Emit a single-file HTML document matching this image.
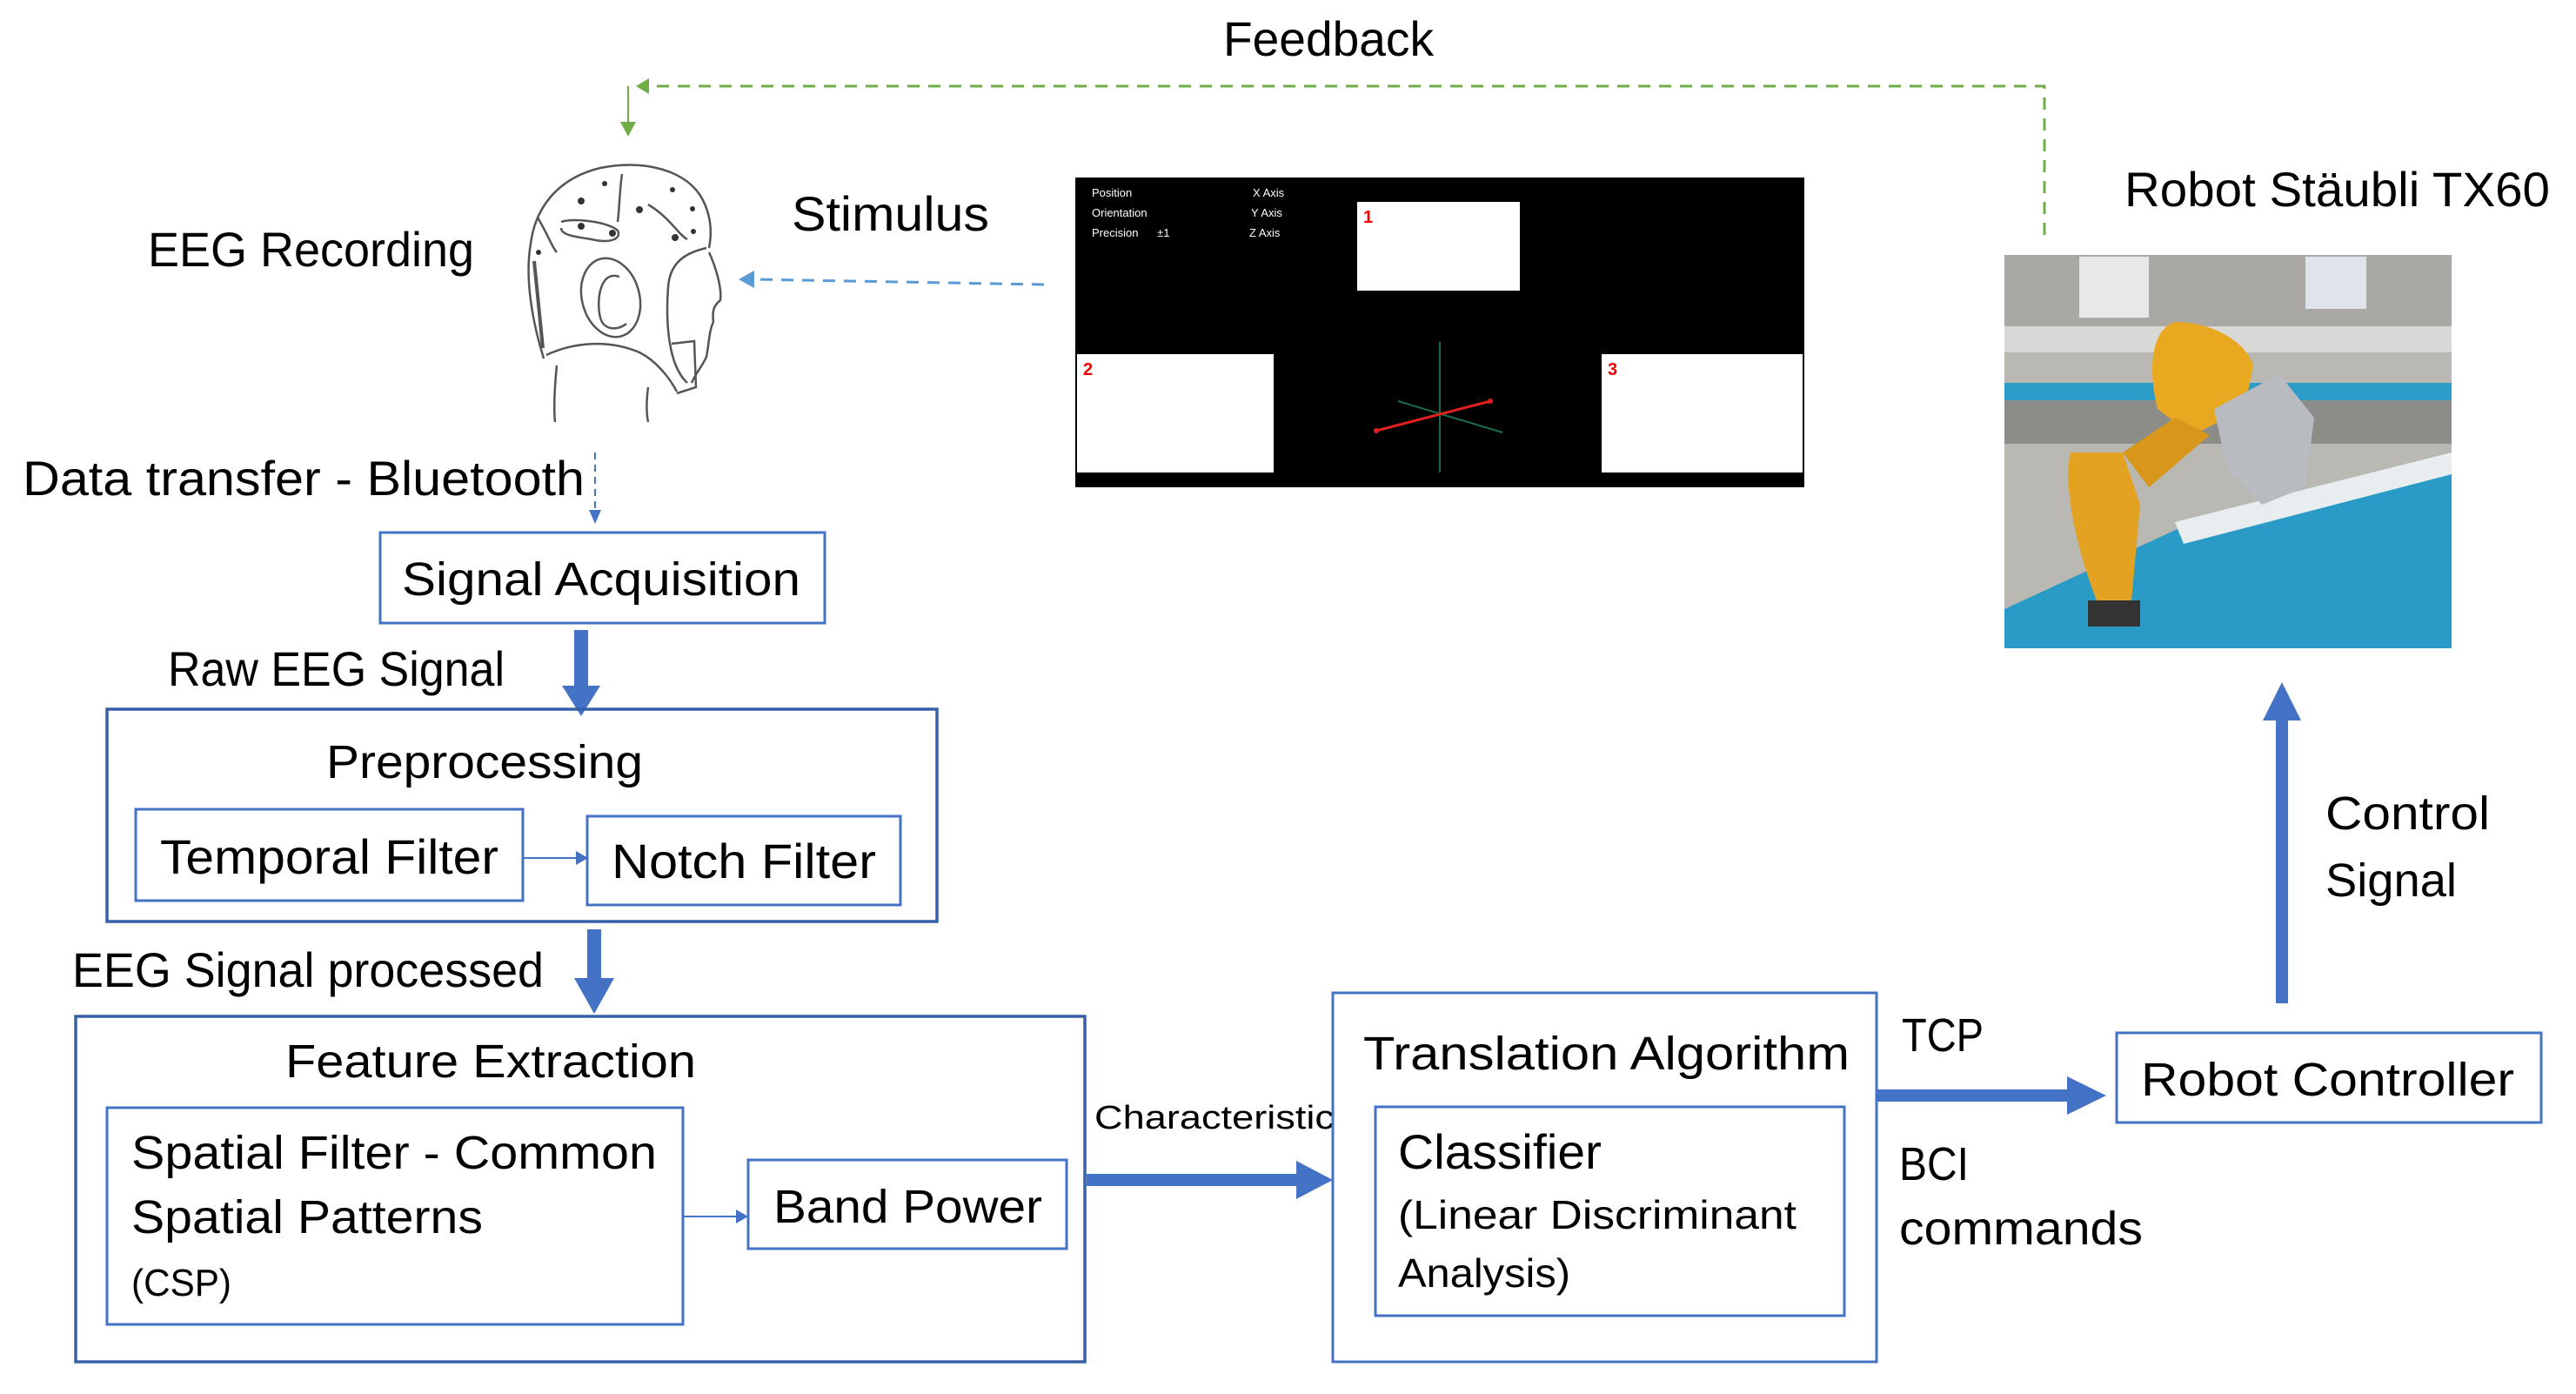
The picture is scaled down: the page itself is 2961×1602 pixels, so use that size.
<!DOCTYPE html>
<html><head><meta charset="utf-8"><style>
html,body{margin:0;padding:0;background:#fff;}
svg{display:block;}
text{font-family:"Liberation Sans",sans-serif;fill:#000;}
</style></head><body>
<svg width="2961" height="1602" viewBox="0 0 2961 1602" xmlns="http://www.w3.org/2000/svg">
<defs>
<marker id="ta" markerWidth="10" markerHeight="10" refX="9" refY="5" orient="auto" markerUnits="userSpaceOnUse"><path d="M0,0 L10,5 L0,10 z" fill="#4472c4"/></marker>
</defs>

<!-- Feedback -->
<text x="1406" y="64" font-size="56" textLength="242" lengthAdjust="spacingAndGlyphs">Feedback</text>
<path d="M2350,270 L2350,99 L740,99" fill="none" stroke="#70ad47" stroke-width="3" stroke-dasharray="14,10"/>
<path d="M731,99 L746,90 L746,108 z" fill="#70ad47"/>
<line x1="722" y1="99" x2="722" y2="142" stroke="#70ad47" stroke-width="2"/>
<path d="M722,157 L713,140 L731,140 z" fill="#70ad47"/>

<!-- Head -->
<g fill="none" stroke="#555" stroke-width="2.5">
<path d="M625,412 C612,370 603,320 610,280 C615,240 640,205 690,193 C740,183 790,195 808,230 C818,250 818,270 815,285"/>
<path d="M815,290 C822,305 830,330 828,345 C822,350 818,355 820,370 C815,380 815,395 812,410 C808,420 800,428 795,440"/>
<path d="M628,408 C660,393 700,390 735,405 C755,415 770,435 778,450"/>
<path d="M812,285 C790,290 770,300 768,330 C765,370 768,420 790,440"/>
<path d="M772,395 L798,392 L800,445 L778,452"/>
<ellipse cx="702" cy="342" rx="33" ry="46" transform="rotate(-15 702 342)"/>
<path d="M712,318 C690,310 685,345 690,365 C694,380 710,380 720,372"/>
<path d="M640,420 C638,440 636,465 638,485"/>
<path d="M745,445 C743,460 743,475 745,485"/>
<path d="M614,300 L624,400" stroke-width="4"/>
<path d="M715,200 C712,220 712,240 710,255"/>
<path d="M618,250 C630,270 635,285 640,290"/>
<path d="M745,235 C770,250 780,270 790,275"/>
<path d="M645,255 C660,250 700,255 710,265 C715,275 700,280 680,275 C660,272 645,270 645,262"/>
</g>
<g fill="#333">
<circle cx="668" cy="260" r="4"/><circle cx="704" cy="268" r="4"/><circle cx="735" cy="241" r="4"/><circle cx="776" cy="273" r="4"/><circle cx="668" cy="231" r="4"/><circle cx="619" cy="290" r="3"/><circle cx="797" cy="266" r="3"/><circle cx="796" cy="240" r="3"/><circle cx="695" cy="211" r="3"/><circle cx="773" cy="218" r="3"/>
</g>

<text x="170" y="306" font-size="56" textLength="375" lengthAdjust="spacingAndGlyphs">EEG Recording</text>
<text x="910" y="265" font-size="56" textLength="227" lengthAdjust="spacingAndGlyphs">Stimulus</text>
<line x1="1200" y1="327" x2="866" y2="321" stroke="#5b9bd5" stroke-width="3" stroke-dasharray="14,10"/>
<path d="M849,321 L867,311 L867,331 z" fill="#5b9bd5"/>

<!-- Stimulus screen -->
<rect x="1236" y="204" width="838" height="356" fill="#000"/>
<g font-size="13" style="fill:#fff">
<text x="1255" y="226" style="fill:#fff">Position</text>
<text x="1255" y="249" style="fill:#fff">Orientation</text>
<text x="1255" y="272" style="fill:#fff">Precision&#160;&#160;&#160;&#160;&#160;&#160;±1</text>
<text x="1440" y="226" style="fill:#fff">X Axis</text>
<text x="1438" y="249" style="fill:#fff">Y Axis</text>
<text x="1436" y="272" style="fill:#fff">Z Axis</text>
</g>
<rect x="1560" y="232" width="187" height="102" fill="#fff"/>
<rect x="1238" y="407" width="226" height="136" fill="#fff"/>
<rect x="1841" y="407" width="231" height="136" fill="#fff"/>
<text x="1567" y="256" font-size="20" font-weight="bold" style="fill:#e00">1</text>
<text x="1245" y="431" font-size="20" font-weight="bold" style="fill:#e00">2</text>
<text x="1848" y="431" font-size="20" font-weight="bold" style="fill:#e00">3</text>
<line x1="1655" y1="393" x2="1655" y2="543" stroke="#1a6b4a" stroke-width="2"/>
<line x1="1607" y1="461" x2="1727" y2="497" stroke="#1a6b4a" stroke-width="2"/>
<line x1="1582" y1="495" x2="1713" y2="461" stroke="#e0201e" stroke-width="3"/>
<circle cx="1582" cy="495" r="3" fill="#e02020"/><circle cx="1713" cy="461" r="3" fill="#e02020"/>

<!-- Robot -->
<text x="2442" y="237" font-size="56" textLength="489" lengthAdjust="spacingAndGlyphs">Robot Stäubli TX60</text>
<g>
<rect x="2304" y="293" width="514" height="452" fill="#b9b8b2"/>
<rect x="2304" y="293" width="514" height="90" fill="#a9a8a4"/>
<rect x="2390" y="295" width="80" height="70" fill="#e8e8ea"/>
<rect x="2650" y="295" width="70" height="60" fill="#dfe4ea"/>
<rect x="2304" y="375" width="514" height="30" fill="#d8d8d6"/>
<rect x="2304" y="440" width="514" height="20" fill="#2c9cc8"/>
<rect x="2304" y="460" width="514" height="50" fill="#8c8c88"/>
<path d="M2304,745 L2304,700 L2520,600 L2818,530 L2818,745 z" fill="#2a9bc6"/>
<path d="M2500,600 L2818,520 L2818,545 L2510,625 z" fill="#e8eef0"/>
<path d="M2380,520 C2370,560 2390,640 2410,690 L2450,690 L2460,580 L2440,520 z" fill="#e3a221"/>
<path d="M2500,370 C2470,380 2470,430 2480,470 L2520,500 L2580,470 L2590,420 C2580,390 2540,370 2500,370 z" fill="#e8a820"/>
<path d="M2440,520 L2500,480 L2540,500 L2470,560 z" fill="#d8961a"/>
<path d="M2545,470 L2620,430 L2660,480 L2650,560 L2600,580 L2560,540 z" fill="#b8bcc0"/>
<rect x="2400" y="690" width="60" height="30" fill="#333"/>
</g>

<!-- Data transfer -->
<text x="26" y="569" font-size="56" textLength="646" lengthAdjust="spacingAndGlyphs">Data transfer - Bluetooth</text>
<line x1="684" y1="520" x2="684" y2="588" stroke="#4472c4" stroke-width="2" stroke-dasharray="8,6"/>
<path d="M684,602 L677,586 L691,586 z" fill="#4472c4"/>

<!-- Signal Acquisition -->
<rect x="437" y="612" width="511" height="104" fill="none" stroke="#4472c4" stroke-width="3"/>
<text x="462" y="684" font-size="54" textLength="458" lengthAdjust="spacingAndGlyphs">Signal Acquisition</text>

<text x="193" y="788" font-size="56" textLength="387" lengthAdjust="spacingAndGlyphs">Raw EEG Signal</text>
<rect x="660" y="724" width="16" height="66" fill="#4472c4"/>
<path d="M646,788 L690,788 L668,823 z" fill="#4472c4"/>

<!-- Preprocessing -->
<rect x="123" y="815" width="954" height="244" fill="none" stroke="#3760a8" stroke-width="3.5"/>
<text x="375" y="894" font-size="54" textLength="364" lengthAdjust="spacingAndGlyphs">Preprocessing</text>
<rect x="156" y="930" width="445" height="105" fill="none" stroke="#4472c4" stroke-width="3"/>
<text x="184" y="1004" font-size="56" textLength="389" lengthAdjust="spacingAndGlyphs">Temporal Filter</text>
<line x1="601" y1="986" x2="662" y2="986" stroke="#4472c4" stroke-width="2"/>
<path d="M676,986 L662,978 L662,994 z" fill="#4472c4"/>
<rect x="675" y="938" width="360" height="102" fill="none" stroke="#4472c4" stroke-width="3"/>
<text x="703" y="1009" font-size="56" textLength="304" lengthAdjust="spacingAndGlyphs">Notch Filter</text>

<text x="83" y="1134" font-size="56" textLength="542" lengthAdjust="spacingAndGlyphs">EEG Signal processed</text>
<rect x="675" y="1068" width="16" height="58" fill="#4472c4"/>
<path d="M660,1124 L706,1124 L683,1165 z" fill="#4472c4"/>

<!-- Feature Extraction -->
<rect x="87" y="1168" width="1160" height="397" fill="none" stroke="#3760a8" stroke-width="3.5"/>
<text x="328" y="1238" font-size="54" textLength="472" lengthAdjust="spacingAndGlyphs">Feature Extraction</text>
<rect x="123" y="1273" width="662" height="249" fill="none" stroke="#4472c4" stroke-width="3"/>
<text x="151" y="1343" font-size="54" textLength="604" lengthAdjust="spacingAndGlyphs">Spatial Filter - Common</text>
<text x="151" y="1417" font-size="54" textLength="404" lengthAdjust="spacingAndGlyphs">Spatial Patterns</text>
<text x="151" y="1489" font-size="44" textLength="115" lengthAdjust="spacingAndGlyphs">(CSP)</text>
<line x1="785" y1="1398" x2="846" y2="1398" stroke="#4472c4" stroke-width="2"/>
<path d="M860,1398 L846,1390 L846,1406 z" fill="#4472c4"/>
<rect x="860" y="1333" width="366" height="102" fill="none" stroke="#4472c4" stroke-width="3"/>
<text x="889" y="1405" font-size="54" textLength="309" lengthAdjust="spacingAndGlyphs">Band Power</text>

<text x="1258" y="1297" font-size="38" textLength="276" lengthAdjust="spacingAndGlyphs">Characteristic</text>
<rect x="1249" y="1349" width="245" height="14" fill="#4472c4"/>
<path d="M1490,1334 L1532,1356 L1490,1378 z" fill="#4472c4"/>

<!-- Translation -->
<rect x="1532" y="1141" width="625" height="424" fill="none" stroke="#4472c4" stroke-width="3"/>
<text x="1567" y="1229" font-size="54" textLength="559" lengthAdjust="spacingAndGlyphs">Translation Algorithm</text>
<rect x="1581" y="1272" width="539" height="240" fill="none" stroke="#4472c4" stroke-width="3"/>
<text x="1607" y="1343" font-size="56" textLength="234" lengthAdjust="spacingAndGlyphs">Classifier</text>
<text x="1607" y="1412" font-size="46" textLength="458" lengthAdjust="spacingAndGlyphs">(Linear Discriminant</text>
<text x="1607" y="1479" font-size="46" textLength="198" lengthAdjust="spacingAndGlyphs">Analysis)</text>

<text x="2186" y="1208" font-size="54" textLength="94" lengthAdjust="spacingAndGlyphs">TCP</text>
<rect x="2157" y="1252" width="222" height="14" fill="#4472c4"/>
<path d="M2376,1237 L2421,1259 L2376,1281 z" fill="#4472c4"/>
<text x="2183" y="1356" font-size="54" textLength="80" lengthAdjust="spacingAndGlyphs">BCI</text>
<text x="2183" y="1430" font-size="54" textLength="280" lengthAdjust="spacingAndGlyphs">commands</text>

<rect x="2433" y="1187" width="488" height="103" fill="none" stroke="#4472c4" stroke-width="3"/>
<text x="2461" y="1259" font-size="54" textLength="429" lengthAdjust="spacingAndGlyphs">Robot Controller</text>

<rect x="2616" y="825" width="14" height="328" fill="#4472c4"/>
<path d="M2601,828 L2623,784 L2645,828 z" fill="#4472c4"/>
<text x="2673" y="953" font-size="54" textLength="189" lengthAdjust="spacingAndGlyphs">Control</text>
<text x="2673" y="1030" font-size="54" textLength="151" lengthAdjust="spacingAndGlyphs">Signal</text>
</svg>
</body></html>
